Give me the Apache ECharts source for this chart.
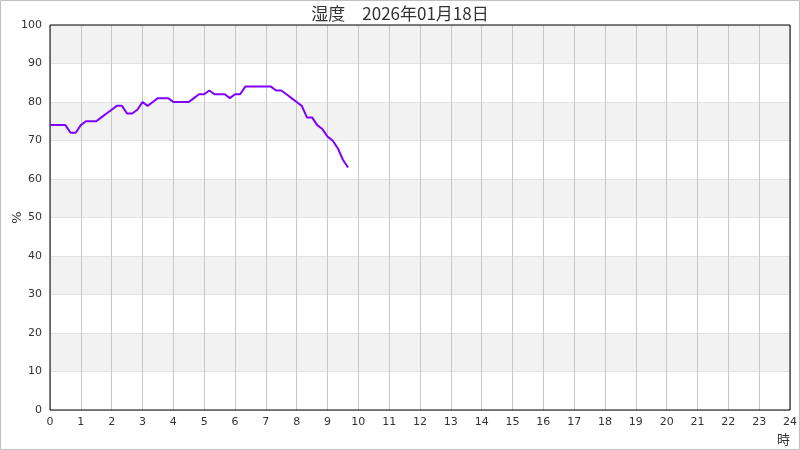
<!DOCTYPE html>
<html>
<head>
<meta charset="utf-8">
<script src="https://cdn.jsdelivr.net/npm/echarts@6/dist/echarts.min.js"></script>
<style>
html,body{margin:0;padding:0;background:#fff;}
#c{width:800px;height:450px;}
</style>
</head>
<body>
<div id="c"></div>
<script>
const titleText = '湿度　2026年01月18日';
const yAxisName = '%';
const xAxisName = '時';
const times = ['0:00','0:10','0:20','0:30','0:40','0:50','1:00','1:10','1:20','1:30','1:40','1:50',
  '2:00','2:10','2:20','2:30','2:40','2:50','3:00','3:10','3:20','3:30','3:40','3:50',
  '4:00','4:10','4:20','4:30','4:40','4:50','5:00','5:10','5:20','5:30','5:40','5:50',
  '6:00','6:10','6:20','6:30','6:40','6:50','7:00','7:10','7:20','7:30','7:40','7:50',
  '8:00','8:10','8:20','8:30','8:40','8:50','9:00','9:10','9:20','9:30','9:40'];
const humidity = [74,74,74,74,72,72,74,75,75,75,76,77,
  78,79,79,77,77,78,80,79,80,81,81,81,
  80,80,80,80,81,82,82,83,82,82,82,81,
  82,82,84,84,84,84,84,84,83,83,82,81,
  80,79,76,76,74,73,71,70,68,65,63];

function toHours(t){const p=t.split(':');return +p[0]+(+p[1])/60;}
const seriesData = times.map((t,i)=>[toHours(t),humidity[i]]);

const chart = echarts.init(document.getElementById('c'), null, {renderer:'canvas'});
chart.setOption({
  animation:false,
  backgroundColor:'#fff',
  title:{text:titleText,left:'center',top:0,textStyle:{fontSize:17,fontWeight:'normal',color:'#333',fontFamily:'"Noto Sans CJK JP", sans-serif'}},
  graphic:[{type:'rect',shape:{x:0.5,y:0.5,width:799,height:449},style:{fill:'none',stroke:'#c0c0c0',lineWidth:1},silent:true,z:100}],
  grid:{left:50,right:10,top:25,bottom:40,containLabel:false,outerBoundsMode:'none',show:true,borderColor:'#000',borderWidth:1,backgroundColor:'transparent',z:10},
  xAxis:{type:'value',min:0,max:24,interval:1,
    name:xAxisName,nameLocation:'end',nameGap:0,nameMoveOverlap:false,
    nameTextStyle:{align:'right',verticalAlign:'top',padding:[23,0,0,0],fontSize:13,color:'#333',fontFamily:'"Noto Sans CJK JP", sans-serif'},
    axisLine:{show:false},axisTick:{show:false},
    axisLabel:{fontSize:11,color:'#333',margin:7,fontFamily:'"DejaVu Sans", sans-serif'},
    splitLine:{show:true,lineStyle:{color:'#c8c8c8',width:1}}},
  yAxis:{type:'value',min:0,max:100,interval:10,
    name:yAxisName,nameLocation:'middle',nameGap:26,nameRotate:90,nameMoveOverlap:false,
    nameTextStyle:{fontSize:13,color:'#333',fontFamily:'"DejaVu Sans", sans-serif'},
    axisLine:{show:false},axisTick:{show:false},
    axisLabel:{fontSize:11,color:'#333',margin:8,fontFamily:'"DejaVu Sans", sans-serif'},
    splitLine:{show:true,lineStyle:{color:'#e2e2e2',width:1}},
    splitArea:{show:true,areaStyle:{color:['#ffffff','#f2f2f2']}}},
  series:[{type:'line',data:seriesData,showSymbol:false,symbol:'none',
    lineStyle:{color:'#8000ff',width:2},itemStyle:{color:'#8000ff'},z:20}]
});
</script>
</body>
</html>
